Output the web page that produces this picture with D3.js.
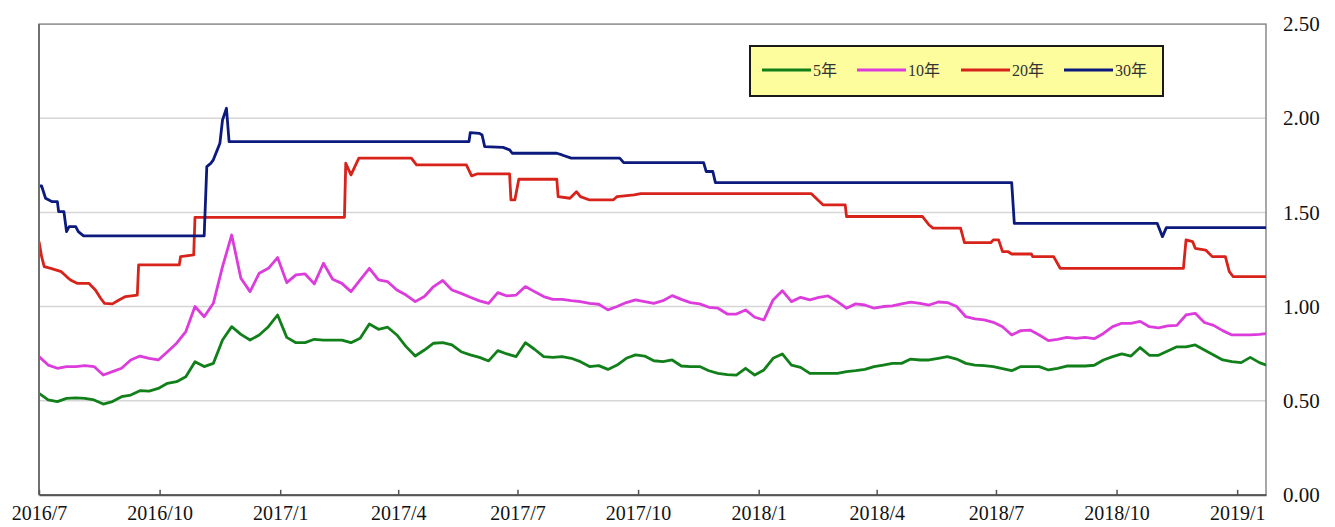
<!DOCTYPE html>
<html><head><meta charset="utf-8">
<script src="https://cdn.jsdelivr.net/npm/d3@7"></script>
<style>body{margin:0;background:#fff}svg{display:block}</style>
</head><body>
<svg id="chart" width="1335" height="527"></svg>
<script>
// ---------------- data ----------------
const startDate = "2016-07-01";
const endDate = "2019-01-23";
const weeklyCount = 135; // weekly observation dates from startDate
const seriesNames = ["5年", "10年", "20年", "30年"];
const yTickValues = [0, 0.5, 1.0, 1.5, 2.0, 2.5];
const xTickDates = ["2016-07-01","2016-10-01","2017-01-01","2017-04-01","2017-07-01","2017-10-01","2018-01-01","2018-04-01","2018-07-01","2018-10-01","2019-01-01"];
const xTickLabels = ["2016/7","2016/10","2017/1","2017/4","2017/7","2017/10","2018/1","2018/4","2018/7","2018/10","2019/1"];

const yield5 = [0.539,0.504,0.495,0.512,0.515,0.512,0.504,0.482,0.495,0.521,0.530,0.553,0.551,0.565,0.592,0.601,0.627,0.707,0.681,0.698,0.822,0.893,0.852,
0.822,0.849,0.893,0.955,0.836,0.808,0.808,0.826,0.822,0.822,0.822,0.808,0.831,0.907,0.879,0.890,0.849,0.787,0.737,0.769,0.805,0.808,
0.796,0.760,0.743,0.730,0.711,0.766,0.748,0.734,0.808,0.773,0.734,0.730,0.734,0.725,0.707,0.681,0.686,0.666,0.689,0.725,0.743,0.737,
0.712,0.707,0.716,0.684,0.681,0.681,0.659,0.645,0.638,0.636,0.672,0.636,0.663,0.725,0.748,0.689,0.677,0.645,0.645,0.645,0.645,0.654,0.659,
0.666,0.681,0.689,0.698,0.698,0.721,0.716,0.716,0.725,0.734,0.721,0.698,0.689,0.686,0.681,0.670,0.659,0.681,0.681,0.681,0.663,0.672,
0.684,0.684,0.684,0.688,0.716,0.734,0.748,0.737,0.782,0.741,0.741,0.764,0.786,0.786,0.796,0.769,0.743,0.716,0.707,0.702,0.730,0.702,0.684];

const yield10 = [0.734,0.689,0.672,0.681,0.681,0.686,0.681,0.636,0.654,0.672,0.716,0.737,0.725,0.716,0.760,0.805,0.867,1.000,0.946,1.017,1.212,1.380,1.150,
1.079,1.177,1.203,1.260,1.127,1.168,1.173,1.120,1.230,1.145,1.123,1.079,1.141,1.203,1.141,1.132,1.088,1.061,1.026,1.053,1.106,1.138,
1.088,1.070,1.049,1.030,1.017,1.074,1.056,1.061,1.106,1.079,1.053,1.038,1.038,1.031,1.026,1.017,1.012,0.982,1.000,1.021,1.035,1.026,
1.017,1.031,1.058,1.038,1.021,1.014,0.996,0.991,0.960,0.960,0.982,0.943,0.929,1.035,1.084,1.026,1.049,1.035,1.049,1.056,1.026,0.991,1.014,
1.008,0.991,1.000,1.003,1.014,1.023,1.017,1.008,1.024,1.021,1.000,0.946,0.934,0.929,0.916,0.893,0.849,0.872,0.875,0.849,0.819,0.826,
0.836,0.831,0.836,0.829,0.857,0.893,0.911,0.911,0.921,0.893,0.886,0.897,0.900,0.955,0.964,0.915,0.900,0.872,0.849,0.849,0.849,0.852,0.858];

const dates20 = ["2016-07-01","2016-07-03","2016-07-05","2016-07-10","2016-07-18","2016-07-22","2016-07-25","2016-07-30","2016-08-08","2016-08-13","2016-08-17","2016-08-20","2016-08-26","2016-08-31","2016-09-05","2016-09-14","2016-09-15","2016-10-16","2016-10-17","2016-10-27","2016-10-28","2017-02-19","2017-02-20","2017-02-24","2017-03-02","2017-04-11","2017-04-15","2017-05-23","2017-05-27","2017-05-31","2017-06-25","2017-06-26","2017-06-29","2017-07-02","2017-07-31","2017-08-01","2017-08-10","2017-08-15","2017-08-18","2017-08-25","2017-09-12","2017-09-15","2017-09-28","2017-10-03","2018-02-10","2018-02-19","2018-03-08","2018-03-09","2018-05-06","2018-05-11","2018-05-14","2018-06-04","2018-06-07","2018-06-27","2018-06-29","2018-07-03","2018-07-06","2018-07-10","2018-07-13","2018-07-28","2018-07-29","2018-08-14","2018-08-19","2018-11-21","2018-11-23","2018-11-28","2018-11-30","2018-12-08","2018-12-13","2018-12-23","2018-12-26","2018-12-29","2019-01-24"];
const yield20 = [1.345,1.265,1.212,1.203,1.185,1.159,1.141,1.123,1.123,1.088,1.044,1.017,1.014,1.035,1.053,1.061,1.221,1.221,1.265,1.274,1.474,1.474,1.761,1.699,1.788,1.788,1.752,1.752,1.694,1.704,1.704,1.566,1.566,1.676,1.676,1.584,1.575,1.610,1.584,1.566,1.566,1.584,1.593,1.600,1.600,1.540,1.540,1.478,1.478,1.433,1.416,1.416,1.339,1.339,1.354,1.354,1.292,1.292,1.279,1.279,1.265,1.265,1.203,1.203,1.354,1.345,1.309,1.300,1.265,1.265,1.185,1.159,1.159];

const dates30 = ["2016-07-01","2016-07-03","2016-07-06","2016-07-10","2016-07-11","2016-07-15","2016-07-16","2016-07-20","2016-07-22","2016-07-24","2016-07-29","2016-07-31","2016-08-04","2016-11-04","2016-11-06","2016-11-09","2016-11-11","2016-11-14","2016-11-16","2016-11-18","2016-11-21","2016-11-23","2017-05-25","2017-05-26","2017-06-02","2017-06-04","2017-06-06","2017-06-20","2017-06-25","2017-06-27","2017-07-31","2017-08-04","2017-08-11","2017-09-17","2017-09-20","2017-11-20","2017-11-22","2017-11-27","2017-11-29","2018-07-13","2018-07-15","2018-11-01","2018-11-05","2018-11-08","2019-01-24"];
const yield30 = [1.640,1.640,1.575,1.560,1.557,1.557,1.504,1.504,1.398,1.424,1.424,1.398,1.375,1.375,1.743,1.760,1.779,1.832,1.867,1.991,2.053,1.876,1.876,1.924,1.920,1.911,1.849,1.845,1.832,1.814,1.814,1.805,1.788,1.788,1.764,1.764,1.717,1.717,1.658,1.658,1.442,1.442,1.371,1.419,1.419];

const seriesColors = ["#12801a", "#dc3cdc", "#d8231b", "#0c1a7e"];

// ---------------- chart ----------------
const parse = d3.timeParse("%Y-%m-%d");
const svg = d3.select("#chart");
const M = {left: 39, right: 1266, top: 24.1, bottom: 494.8};
const FONT = "'Liberation Serif', 'DejaVu Serif', serif";

const x = d3.scaleTime().domain([parse(startDate), parse(endDate)]).range([M.left, M.right]);
const y = d3.scaleLinear().domain([0, 2.5]).range([M.bottom, M.top]);

const weekDates = d3.range(weeklyCount).map(i => d3.timeDay.offset(parse(startDate), i * 7));
const s5 = weekDates.map((d, i) => [d, yield5[i]]);
const s10 = weekDates.map((d, i) => [d, yield10[i]]);
const s20 = dates20.map((d, i) => [parse(d), yield20[i]]);
const s30 = dates30.map((d, i) => [parse(d), yield30[i]]);

// gridlines
svg.append("g").selectAll("line").data(yTickValues.filter(v => v > 0 && v < 2.5)).join("line")
  .attr("x1", M.left).attr("x2", M.right)
  .attr("y1", d => y(d)).attr("y2", d => y(d))
  .attr("stroke", "#d6d6d6").attr("stroke-width", 1.5);

// frame (top / right)
svg.append("rect").attr("x", M.left).attr("y", M.top)
  .attr("width", M.right - M.left).attr("height", M.bottom - M.top)
  .attr("fill", "none").attr("stroke", "#8a8a8a").attr("stroke-width", 1.5);

// clip
svg.append("clipPath").attr("id", "clip").append("rect")
  .attr("x", M.left).attr("y", M.top).attr("width", M.right - M.left).attr("height", M.bottom - M.top);

const line = d3.line().x(d => x(d[0])).y(d => y(d[1]));
const g = svg.append("g").attr("clip-path", "url(#clip)");
[s5, s10, s20, s30].forEach((s, i) => {
  g.append("path").datum(s).attr("d", line)
    .attr("fill", "none").attr("stroke", seriesColors[i])
    .attr("stroke-width", 2.8).attr("stroke-linejoin", "round");
});

// left axis line
svg.append("line").attr("x1", M.left).attr("x2", M.left).attr("y1", M.top).attr("y2", M.bottom)
  .attr("stroke", "#707070").attr("stroke-width", 2);

// bottom axis
const xAxis = d3.axisBottom(x)
  .tickValues(xTickDates.map(parse))
  .tickFormat((d, i) => xTickLabels[i])
  .tickSizeInner(-5).tickSizeOuter(0).tickPadding(11);
const ax = svg.append("g").attr("transform", `translate(0,${M.bottom})`).call(xAxis);
ax.select(".domain").attr("stroke", "#555").attr("stroke-width", 2);
ax.selectAll(".tick line").attr("stroke", "#555").attr("stroke-width", 1.5);
ax.selectAll(".tick text").attr("font-family", FONT)
  .attr("font-size", 20).attr("fill", "#111");

// right axis labels
const yAxis = d3.axisRight(y).tickValues(yTickValues).tickFormat(d3.format(".2f"))
  .tickSize(0).tickPadding(17);
const ay = svg.append("g").attr("transform", `translate(${M.right},0)`).call(yAxis);
ay.select(".domain").remove();
ay.selectAll(".tick text").attr("font-family", FONT)
  .attr("font-size", 21).attr("fill", "#111");

// legend
const L = {x: 750, y: 46, w: 413, h: 50};
const lg = svg.append("g");
lg.append("rect").attr("x", L.x).attr("y", L.y).attr("width", L.w).attr("height", L.h)
  .attr("fill", "#fdfd9e").attr("stroke", "#1a1a1a").attr("stroke-width", 2);
const legendLineX = [762, 857, 961, 1064];
seriesNames.forEach((name, i) => {
  const lx = legendLineX[i];
  lg.append("line").attr("x1", lx).attr("x2", lx + 49).attr("y1", L.y + 24).attr("y2", L.y + 24)
    .attr("stroke", seriesColors[i]).attr("stroke-width", 3);
  lg.append("text").attr("x", lx + 51).attr("y", L.y + 24).attr("dy", "0.36em")
    .attr("font-family", "'Liberation Serif', 'Noto Sans CJK JP', serif")
    .attr("font-size", 16).attr("fill", "#333").text(name);
});
</script>
</body></html>
